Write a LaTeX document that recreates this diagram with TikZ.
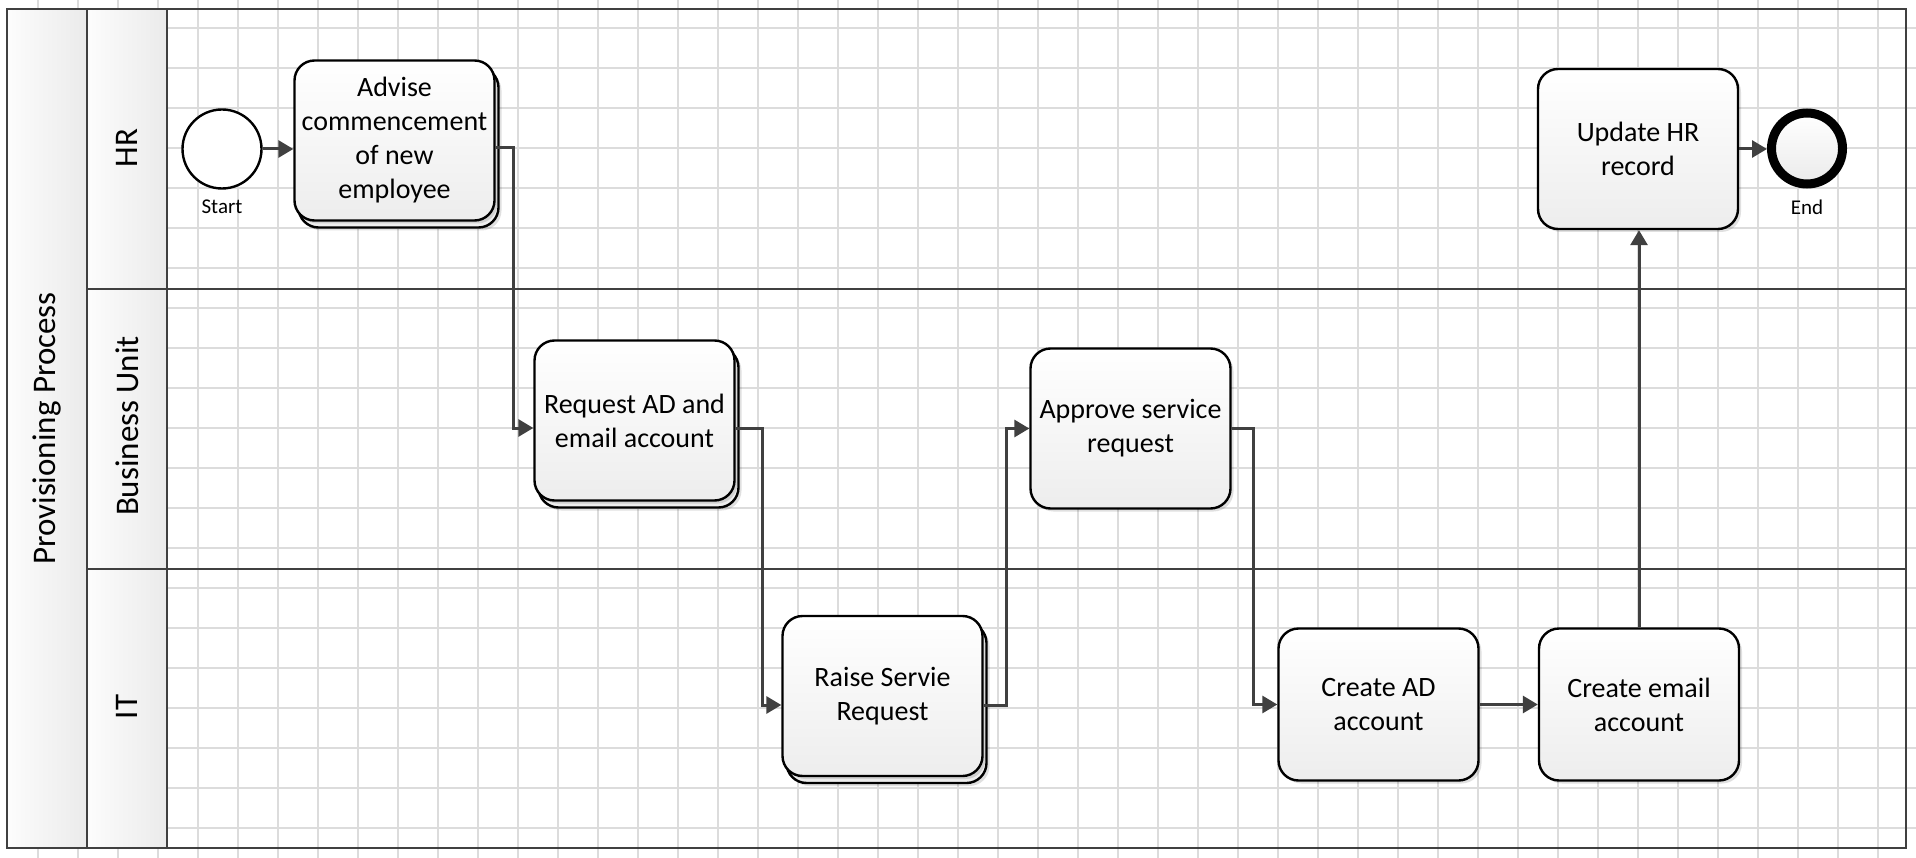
\documentclass[tikz,border=0pt]{standalone}
\usepackage{fontspec}
\setmainfont{Carlito}
\usetikzlibrary{arrows.meta,shadows}
\definecolor{lineC}{HTML}{404040}
\definecolor{gridC}{HTML}{DCDCDC}
\begin{document}
\begin{tikzpicture}[x=1pt,y=-1pt,
  task/.style={draw=black, line width=2.4pt, rounded corners=20pt,
    minimum width=200pt, minimum height=160pt, inner sep=0pt,
    top color=white, bottom color=black!7, align=center,
    font=\fontsize{28}{34}\selectfont,
    drop shadow={shadow xshift=3pt, shadow yshift=-3pt, fill=black, opacity=.12}},
  lanelabel/.style={rotate=90, font=\fontsize{33}{40}\selectfont, inner sep=0pt},
  evlabel/.style={font=\fontsize{21}{25}\selectfont, inner sep=0pt},
  flow/.style={draw=lineC, line width=3pt, -{Triangle[length=15pt,width=17pt]}},
  border/.style={draw=lineC, line width=2.5pt}]
\useasboundingbox (0,0) rectangle (1916,858);
\fill[white] (0,0) rectangle (1916,858);
% grid
\begin{scope}
  \clip (7,0) rectangle (1916,858);
  \foreach \x in {38,78,...,1878} \draw[gridC, line width=1.6pt] (\x,0) -- (\x,858);
  \foreach \y in {28,68,...,828} \draw[gridC, line width=1.6pt] (7,\y) -- (1916,\y);
\end{scope}
% headers
\shade[left color=black!1, right color=black!8] (7,9) rectangle (87,848);
\shade[left color=black!1, right color=black!8] (87,9) rectangle (167,848);
% pool and lanes
\draw[border] (7,9) rectangle (1906,848);
\draw[border] (87,9) -- (87,848);
\draw[border] (167,9) -- (167,848);
\draw[border] (87,289) -- (1906,289);
\draw[border] (87,569) -- (1906,569);
\node[lanelabel] (pool) at (47,428.5) {Provisioning Process};
\node[lanelabel] (hr) at (127,148) {HR};
\node[lanelabel] (bu) at (127,426) {Business Unit};
\node[lanelabel] (it) at (127,707) {IT};
% events
\node[circle, draw=black, line width=2.4pt, fill=white, minimum size=79pt, inner sep=0pt] (start) at (222,149) {};
\node[evlabel] (startlbl) at (222,207) {Start};
\node[circle, draw=black, line width=9pt, top color=white, bottom color=black!8, minimum size=71pt, inner sep=0pt] (end) at (1807,148.5) {};
\node[evlabel] (endlbl) at (1807,207) {End};
% tasks (stacked ones have a copy behind)
\node[task] (advb) at (398.5,147.5) {};
\node[task] (adv) at (394.5,140.5) {Advise\\commencement\\of new\\employee};
\node[task] (reqb) at (638.5,427.5) {};
\node[task] (req) at (634.5,420.5) {Request AD and\\email account};
\node[task] (raiseb) at (886.5,703) {};
\node[task] (raise) at (882.5,696) {Raise Servie\\Request};
\node[task] (appr) at (1130.5,428.5) {Approve service\\request};
\node[task, minimum height=152pt] (cad) at (1378.5,704.5) {Create AD\\account};
\node[task, minimum height=152pt] (cem) at (1639,704.5) {Create email\\account};
\node[task] (upd) at (1638,149) {Update HR\\record};
% flows
\draw[flow] (start.east) -- (start.east -| adv.west);
\draw[flow] ([yshift=-7.5pt]adv.east) -- ++(18,0) |- ([yshift=-7.5pt]req.west);
\draw[flow] ([yshift=-7.5pt]req.east) -- ++(27,0) |- ([yshift=-9pt]raise.west);
\draw[flow] ([yshift=-9pt]raise.east) -- ++(23,0) |- (appr.west);
\draw[flow] (appr.east) -- ++(22,0) |- (cad.west);
\draw[flow] (cad.east) -- (cem.west);
\draw[flow] (cem.north) -- (cem.north |- upd.south);
\draw[flow] (upd.east) -- (upd.east -| end.west);
\end{tikzpicture}
\end{document}
